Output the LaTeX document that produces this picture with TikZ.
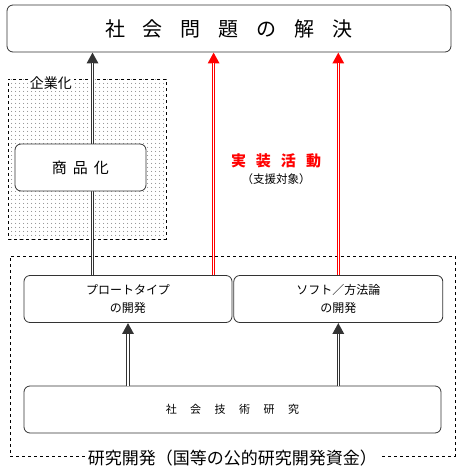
\documentclass[tikz,border=0pt]{standalone}
\usepackage{fontspec}
\setmainfont{Noto Sans CJK JP}
\usetikzlibrary{positioning, arrows.meta, calc, patterns.meta}

\begin{document}
\begin{tikzpicture}[x=1pt, y=-1pt,
        box/.style={draw=black!80, rounded corners=6pt, fill=white, minimum height=47pt,
                    inner sep=0pt, align=center, line width=0.8pt,
                    font=\fontsize{12}{18}\selectfont},
        area/.style={draw, dashed, line width=0.6pt, inner sep=0pt},
        blackarrow/.style={draw=black!80, line width=3.6pt, -{Triangle[width=11pt, length=11pt]},
                           postaction={draw=white, line width=1.6pt, -, shorten >=11pt}},
        redarrow/.style={blackarrow, draw=red}]
        \useasboundingbox (0,0) rectangle (460,475);

        \node[area, pattern={Dots[distance=4pt, radius=0.5pt]}, pattern color=black!70,
              minimum width=158pt, minimum height=160pt]              (ent)   at (87,159)    {};
        \node[area, minimum width=445pt, minimum height=200pt]      (rnd)   at (232.5,356) {};

        \node[box, minimum width=444pt, font=\fontsize{20}{20}\selectfont]
                                                                   (goal)  at (229,28.5)  {社\hspace{18pt}会\hspace{18pt}問\hspace{18pt}題\hspace{18pt}の\hspace{18pt}解\hspace{18pt}決};
        \node[box, minimum width=208pt]                            (proto) at (128,299)   {プロートタイプ\\の開発};
        \node[box, minimum width=209pt] [right=1pt of proto]       (soft)                 {ソフト／方法論\\の開発};
        \node[box, minimum width=417pt, font=\fontsize{11}{12}\selectfont]
                                                                   (basic) at (232.5,409.5) {社\hspace{13.5pt}会\hspace{13.5pt}技\hspace{13.5pt}術\hspace{13.5pt}研\hspace{13.5pt}究};

        \coordinate (p1) at ($(proto.north west)!0.33!(proto.north east)$);
        \coordinate (p2) at ($(proto.north west)!0.91!(proto.north east)$);
        \coordinate (b1) at (basic.north -| proto.south);
        \coordinate (b2) at (basic.north -| soft.south);

        \draw[blackarrow] (p1) -- (p1 |- goal.south);
        \draw[redarrow]   (p2) -- (p2 |- goal.south);
        \draw[redarrow]   (soft.north) -- (soft.north |- goal.south);
        \draw[blackarrow] (b1) -- (proto.south);
        \draw[blackarrow] (b2) -- (soft.south);

        \node[box, minimum width=131pt, font=\fontsize{15}{15}\selectfont]
                                                                   (prod)  at (80.5,167.5) {商\hspace{6pt}品\hspace{6pt}化};

        \node[fill=white, inner sep=1.5pt, font=\fontsize{14}{14}\selectfont] (entlabel) at (51,83) {企業化};
        \node[fill=white, inner xsep=3pt, inner ysep=0pt, font=\fontsize{17}{17}\selectfont]
                                                                   (rndlabel) at ($(rnd.south)+(0,2)$) {研究開発（国等の公的研究開発資金）};

        \node[text=red, inner sep=0pt, font=\fontsize{15}{15}\selectfont\bfseries]
                                                                   (impl) at (276,161)    {実\hspace{10pt}装\hspace{10pt}活\hspace{10pt}動};
        \node[inner sep=0pt, font=\fontsize{11.5}{12}\selectfont] [below=5pt of impl]
                                                                   (implsub)              {（支援対象）};
\end{tikzpicture}
\end{document}
